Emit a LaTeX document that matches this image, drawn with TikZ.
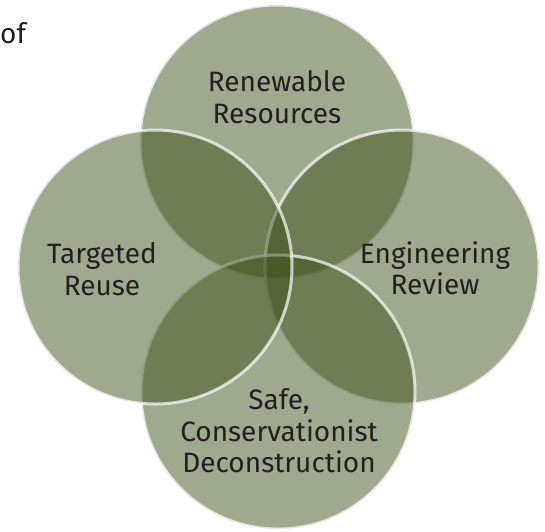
\documentclass[tikz,border=0pt]{standalone}
\usepackage{fontspec}
\setmainfont{Fira Sans}
\definecolor{venngreen}{RGB}{59,79,23}
\definecolor{labelgray}{HTML}{231F20}
\tikzset{
  venn/.style={circle, minimum size=274pt, inner sep=0pt,
    fill=venngreen, fill opacity=0.49,
    draw=white, draw opacity=0.7, line width=3pt},
  vennlabel/.style={align=center, text=labelgray,
    font=\fontsize{28}{31.5}\selectfont}
}

\begin{document}
\begin{tikzpicture}[x=1pt,y=-1pt]
  \useasboundingbox (0,0) rectangle (545,531);

  % clockwise from the top, later circles lie over earlier ones
  \node[venn] (renew) at (277,142) {};
  \node[venn] (engin) at (402,267) {};
  \node[venn] (decon) at (278,392) {};
  \node[venn] (reuse) at (155,267) {};

  \node[vennlabel] (renewtxt) at (277,97) {Renewable\\Resources};
  \node[vennlabel] (engintxt) at (435,268) {Engineering\\Review};
  \node[vennlabel] (decontxt) at (279,431) {Safe,\\Conservationist\\Deconstruction};
  \node[vennlabel] (reusetxt) at (102,269) {Targeted\\Reuse};

  \node[vennlabel, anchor=base west, inner sep=0pt] (oftxt) at (0,43) {of};
\end{tikzpicture}
\end{document}
